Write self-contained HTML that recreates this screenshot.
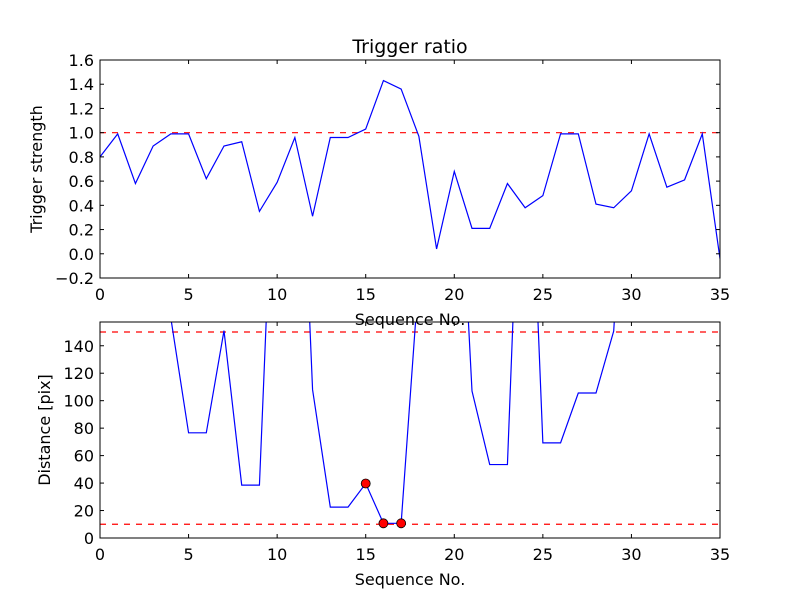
<!DOCTYPE html>
<html><head><meta charset="utf-8"><style>
html,body{margin:0;padding:0;background:#fff;}
svg text{font-family:"DejaVu Sans","Liberation Sans",sans-serif;fill:#000;}
</style></head><body>
<svg id="chart" width="800" height="600" xmlns="http://www.w3.org/2000/svg"></svg>
<script>
const seq = [0,1,2,3,4,5,6,7,8,9,10,11,12,13,14,15,16,17,18,19,20,21,22,23,24,25,26,27,28,29,30,31,32,33,34,35];
const triggerStrength = [0.80,0.99,0.58,0.89,0.99,0.99,0.62,0.89,0.925,0.35,0.59,0.96,0.31,0.96,0.96,1.03,1.43,1.36,0.97,0.04,0.68,0.21,0.21,0.58,0.38,0.48,0.99,0.99,0.41,0.38,0.52,0.99,0.55,0.61,0.99,-0.04];
const distance = [300,300,300,300,160,76.6,76.6,151,38.5,38.5,351,415,108,22.5,22.5,39.7,10.7,10.7,191,300,357,107,53.5,53.5,390,69.3,69.3,105.6,105.6,150.7,370,300,300,300,300,300];
const flaggedIdx = [15,16,17];
const topYTicks = [-0.2,0.0,0.2,0.4,0.6,0.8,1.0,1.2,1.4,1.6];
const botYTicks = [0,20,40,60,80,100,120,140];
const xTicks = [0,5,10,15,20,25,30,35];
const topThreshold = [1.0];
const botThresholds = [10,150];

const NS="http://www.w3.org/2000/svg";
const svg=document.getElementById('chart');
function mk(tag,attrs,parent){const e=document.createElementNS(NS,tag);for(const k in attrs)e.setAttribute(k,attrs[k]);(parent||svg).appendChild(e);return e;}

const L=100,R=720;
const xs=v=>L+(v-0)/(35-0)*(R-L);

function panel(name,top,bot,ymin,ymax,yticks,fmt,data,thr,ylabel,title,ylOff){
  const g=mk('g',{});
  
  
  const ys=v=>bot-(v-ymin)/(ymax-ymin)*(bot-top);
  const cid='clip-'+name;
  const cp=mk('clipPath',{id:cid},g);mk('rect',{x:L,y:top,width:R-L,height:bot-top},cp);
  thr.forEach(t=>{const l=mk('line',{x1:L,x2:R,y1:ys(t),y2:ys(t),stroke:'#ff0000','stroke-width':1.2,'stroke-dasharray':'6,6','clip-path':`url(#${cid})`},g);
    
    });
  const pts=seq.map((s,i)=>xs(s).toFixed(2)+','+ys(data[i]).toFixed(2)).join(' ');
  const pl=mk('polyline',{points:pts,fill:'none',stroke:'#0000ff','stroke-width':1.2,'clip-path':`url(#${cid})`},g);
  
  
  const fr=mk('rect',{x:L,y:top,width:R-L,height:bot-top,fill:'none',stroke:'#000','stroke-width':1},g);
  
  
  yticks.forEach(t=>{const y=ys(t);
    mk('line',{x1:L,x2:L+4,y1:y,y2:y,stroke:'#000'},g);mk('line',{x1:R,x2:R-4,y1:y,y2:y,stroke:'#000'},g);
    const tx=mk('text',{x:L-6,y:y+6,'text-anchor':'end','font-size':16},g);tx.textContent=fmt(t);
    
    });
  xticks(g,top,bot);
  const yl=mk('text',{x:0,y:0,'text-anchor':'middle','font-size':16,transform:`translate(${L-ylOff},${(top+bot)/2}) rotate(-90)`},g);yl.textContent=ylabel;
  
  
  const xl=mk('text',{x:(L+R)/2,y:bot+47,'text-anchor':'middle','font-size':16},g);xl.textContent='Sequence No.';
  
  
  if(title){const tt=mk('text',{x:(L+R)/2,y:top-7,'text-anchor':'middle','font-size':19},g);tt.textContent=title;
    
    }
  return ys;
}
function xticks(g,top,bot){xTicks.forEach(t=>{const x=xs(t);
  mk('line',{x1:x,x2:x,y1:bot,y2:bot-4,stroke:'#000'},g);mk('line',{x1:x,x2:x,y1:top,y2:top+4,stroke:'#000'},g);
  const tx=mk('text',{x:x,y:bot+22,'text-anchor':'middle','font-size':16},g);tx.textContent=String(t);
  
  });}

panel('trigger-ratio-panel',60,278,-0.2,1.6,topYTicks,v=>v.toFixed(1).replace('-','\u2212'),triggerStrength,topThreshold,'Trigger strength','Trigger ratio',58);
const ys2=panel('distance-panel',322,538,0,157.3,botYTicks,v=>String(v),distance,botThresholds,'Distance [pix]',null,50);
flaggedIdx.forEach(i=>{const c=mk('circle',{cx:xs(seq[i]),cy:ys2(distance[i]),r:4.5,fill:'#ff0000',stroke:'#000','stroke-width':0.8});
  
  });
</script>
</body></html>
